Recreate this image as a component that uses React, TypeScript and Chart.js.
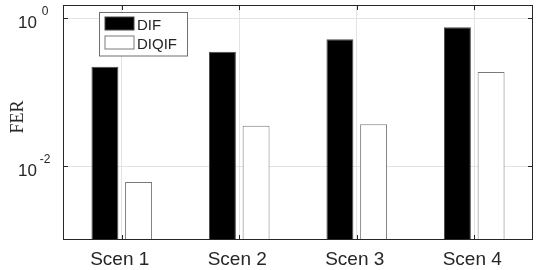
import React, { useEffect, useRef } from "react";
import { Chart, registerables } from "chart.js";

Chart.register(...registerables);

const categories = ["Scen 1", "Scen 2", "Scen 3", "Scen 4"];
const difValues = [0.22, 0.35, 0.515, 0.75];
const diqifValues = [0.0061, 0.0351, 0.0366, 0.186];
const yTickValues = [1e-2, 1];
const yTickExponents = ["-2", "0"];
const seriesNames = ["DIF", "DIQIF"];
const yTitle = "FER";

const SANS = '"Liberation Sans", Arial, Helvetica, sans-serif';
const SERIF = '"Liberation Serif", "Times New Roman", serif';
const INK = "#262626";

const matlabPlugin = {
  id: "matlabDecor",
  afterDraw(chart: any) {
    const ctx = chart.ctx;
    const { left, right, top, bottom } = chart.chartArea;
    const xs = chart.scales.x;
    const ys = chart.scales.y;
    ctx.save();
    // box
    ctx.strokeStyle = INK;
    ctx.lineWidth = 1;
    ctx.strokeRect(Math.round(left) + 0.5, Math.round(top) + 0.5, Math.round(right - left) - 1, Math.round(bottom - top) - 1);
    // inward ticks
    ctx.beginPath();
    xs.ticks.forEach((_t: any, i: number) => {
      const x = Math.round(xs.getPixelForTick(i)) + 0.5;
      ctx.moveTo(x, bottom);
      ctx.lineTo(x, bottom - 5);
      ctx.moveTo(x, top);
      ctx.lineTo(x, top + 5);
    });
    yTickValues.forEach((v) => {
      const y = Math.round(ys.getPixelForValue(v)) + 0.5;
      ctx.moveTo(left, y);
      ctx.lineTo(left + 5, y);
      ctx.moveTo(right, y);
      ctx.lineTo(right - 5, y);
    });
    ctx.stroke();

    // y tick labels with superscripts
    ctx.fillStyle = INK;
    yTickValues.forEach((v, i) => {
      const y = ys.getPixelForValue(v);
      ctx.font = `17px ${SANS}`;
      ctx.textAlign = "right";
      ctx.textBaseline = "alphabetic";
      ctx.fillText("10", left - 26, y + 9.5);
      ctx.font = `12px ${SANS}`;
      ctx.textAlign = "center";
      ctx.fillText(yTickExponents[i], left - 18, y - 3.5);
    });

    // x tick labels
    ctx.font = `19px ${SANS}`;
    ctx.textAlign = "center";
    ctx.textBaseline = "alphabetic";
    categories.forEach((c, i) => {
      ctx.fillText(c, xs.getPixelForTick(i) - 2, bottom + 24.5);
    });

    // y title
    ctx.save();
    ctx.translate(18, 117);
    ctx.rotate(-Math.PI / 2);
    ctx.font = `18px ${SERIF}`;
    ctx.textAlign = "center";
    ctx.textBaseline = "middle";
    ctx.fillText(yTitle, 0, 0);
    ctx.restore();

    // legend
    const lx = left + 36.5;
    const ly = top + 7.5;
    const lw = 88;
    const lh = 43.5;
    ctx.fillStyle = "#ffffff";
    ctx.fillRect(lx, ly, lw, lh);
    ctx.strokeStyle = "#6e6e6e";
    ctx.strokeRect(lx, ly, lw, lh);
    chart.data.datasets.forEach((ds: any, i: number) => {
      const sy = ly + 4.5 + i * 19;
      ctx.fillStyle = ds.backgroundColor;
      ctx.fillRect(lx + 5.5, sy, 29, 13);
      ctx.strokeStyle = ds.borderColor;
      ctx.strokeRect(lx + 5.5, sy, 29, 13);
      ctx.fillStyle = INK;
      ctx.font = `15px ${SANS}`;
      ctx.textAlign = "left";
      ctx.textBaseline = "alphabetic";
      ctx.fillText(ds.label, lx + 37.5, sy + 12.5);
    });
    ctx.restore();
  },
};

export default function App() {
  const ref = useRef<HTMLCanvasElement | null>(null);
  useEffect(() => {
    document.body.style.margin = "0";
    const canvas = ref.current;
    if (!canvas) return;
    const chart = new Chart(canvas, {
      type: "bar",
      data: {
        labels: categories,
        datasets: [
          {
            label: seriesNames[0],
            data: difValues,
            backgroundColor: "#000000",
            borderColor: "#4a4a4a",
            borderWidth: 1,
            categoryPercentage: 0.573,
            barPercentage: 0.8,
          },
          {
            label: seriesNames[1],
            data: diqifValues,
            backgroundColor: "#ffffff",
            borderColor: "#7a7a7a",
            borderWidth: 1,
            categoryPercentage: 0.573,
            barPercentage: 0.8,
          },
        ],
      },
      options: {
        animation: false,
        responsive: false,
        devicePixelRatio: 1,
        layout: { padding: { left: 63, right: 7, top: 5, bottom: 30 } },
        plugins: { legend: { display: false }, tooltip: { enabled: false } },
        scales: {
          x: {
            offset: true,
            grid: { display: true, offset: false, color: "#e3e3e3", drawTicks: false },
            border: { display: false },
            ticks: { display: false },
            afterFit: (s: any) => { s.height = 0; },
          },
          y: {
            type: "logarithmic",
            min: 1e-3,
            max: 1.5,
            grid: { display: true, color: "#e3e3e3", drawTicks: false },
            border: { display: false },
            ticks: { display: false },
            afterBuildTicks: (s: any) => {
              s.ticks = yTickValues.map((v) => ({ value: v }));
            },
            afterFit: (s: any) => { s.width = 0; },
          },
        },
      },
      plugins: [matlabPlugin],
    } as any);
    return () => chart.destroy();
  }, []);
  return <canvas ref={ref} width={540} height={270} style={{ display: "block" }} />;
}
